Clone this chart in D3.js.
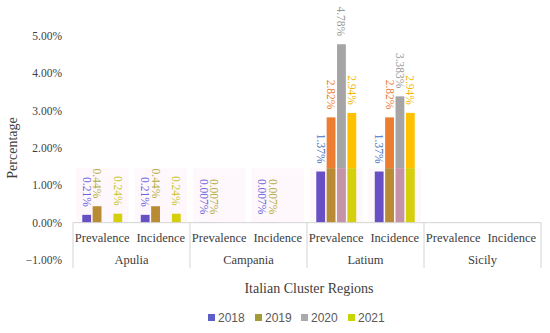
<!DOCTYPE html>
<html>
<head>
<meta charset="utf-8">
<script src="https://cdn.jsdelivr.net/npm/d3@7/dist/d3.min.js"></script>
<style>
  html, body { margin: 0; padding: 0; background: #fff; }
  svg { display: block; }
</style>
</head>
<body>
<svg id="chart" width="550" height="333"></svg>
<script>
const regions = ["Apulia", "Campania", "Latium", "Sicily"];
const measures = ["Prevalence", "Incidence"];
const years = ["2018", "2019", "2020", "2021"];
// values in percent, order: Apulia P, Apulia I, Campania P, Campania I, Latium P, Latium I, Sicily P, Sicily I
const v2018 = [0.21, 0.21, 0.007, 0.007, 1.37, 1.37, null, null];
const v2019 = [0.44, 0.44, 0.007, 0.007, 2.82, 2.82, null, null];
const v2020 = [null, null, null, null, 4.78, 3.383, null, null];
const v2021 = [0.24, 0.24, null, null, 2.94, 2.94, null, null];
const yTicks = [-1, 0, 1, 2, 3, 4, 5];

(function () {
const series = [v2018, v2019, v2020, v2021];
const topColors = ["#4472c4", "#ed7d31", "#a5a5a5", "#ffc000"];
const lowColors = ["#6650c4", "#b98b34", "#c493a6", "#d6cf0c"];
const labelTopColors = ["#4472c4", "#ed7d31", "#9a9a9a", "#f5b800"];
const labelLowColors = ["#6a66dc", "#b3ad3c", "#a8a8a8", "#c9c52a"];
const legendColors = ["#5b5fc7", "#a39b35", "#aaaaaa", "#c6d600"];
const overlayTop = 1.46;

const svg = d3.select("#chart");
const pLeft = 73, pRight = 541, pTop = 36, pBottom = 260;

const y = d3.scaleLinear().domain([-1, 5]).range([pBottom, pTop]);

const cats = [];
regions.forEach(r => measures.forEach(m => cats.push(r + "|" + m)));
const x0 = d3.scaleBand().domain(cats).range([pLeft, pRight]).padding(0);
const xr = d3.scaleBand().domain(regions).range([pLeft, pRight]).padding(0);
const x1 = d3.scaleBand().domain(years).range([8.5, x0.bandwidth() - 8.5]).paddingInner(0.15).paddingOuter(0.075);

const serif = "'Liberation Serif', 'Times New Roman', serif";

// faint background bands (overlay artefact)
svg.append("g").selectAll("rect").data(cats).join("rect")
  .attr("x", d => x0(d) + 3)
  .attr("width", x0.bandwidth() - 6)
  .attr("y", y(overlayTop))
  .attr("height", y(0) - y(overlayTop))
  .attr("fill", (d, i) => i < 6 ? "#fef8fc" : "#ffffff");

// y tick labels
svg.append("g").selectAll("text").data(yTicks).join("text")
  .attr("x", 62).attr("y", d => y(d)).attr("dy", "0.35em")
  .attr("text-anchor", "end")
  .attr("font-family", serif).attr("font-size", 11.5).attr("fill", "#404040")
  .text(d => d3.format(".2f")(d).replace("-", "\u2212") + "%");

// bars
const barG = svg.append("g");
series.forEach((vals, si) => {
  vals.forEach((v, ci) => {
    if (v === null) return;
    const bx = x0(cats[ci]) + x1(years[si]);
    const bw = x1.bandwidth();
    const low = Math.min(v, overlayTop);
    if (v > overlayTop) {
      barG.append("rect").attr("x", bx).attr("width", bw)
        .attr("y", y(v)).attr("height", y(overlayTop) - y(v))
        .attr("fill", topColors[si]);
    }
    barG.append("rect").attr("x", bx).attr("width", bw)
      .attr("y", y(low)).attr("height", Math.max(0, y(0) - y(low)))
      .attr("fill", lowColors[si]);
    const lx = bx + bw / 2;
    const ly = y(v) - 8;
    barG.append("text")
      .attr("transform", `translate(${lx},${ly}) rotate(90)`)
      .attr("text-anchor", "end").attr("dy", "0.35em")
      .attr("font-family", serif).attr("font-size", 11.5)
      .attr("fill", v > 1 ? labelTopColors[si] : labelLowColors[si])
      .text(v + "%");
  });
});

// x axis line at zero
svg.append("line").attr("x1", pLeft).attr("x2", pRight)
  .attr("y1", y(0)).attr("y2", y(0))
  .attr("stroke", "#d4d4d4").attr("stroke-width", 1);

// region separators
const seps = regions.map(r => xr(r)).concat([pRight]);
svg.append("g").selectAll("line").data(seps).join("line")
  .attr("x1", d => d).attr("x2", d => d)
  .attr("y1", y(0)).attr("y2", 268)
  .attr("stroke", "#d4d4d4").attr("stroke-width", 1);

// measure labels
svg.append("g").selectAll("text").data(cats).join("text")
  .attr("x", d => x0(d) + x0.bandwidth() / 2).attr("y", 242)
  .attr("text-anchor", "middle")
  .attr("font-family", serif).attr("font-size", 12.5).attr("fill", "#404040")
  .text(d => d.split("|")[1]);

// region labels
svg.append("g").selectAll("text").data(regions).join("text")
  .attr("x", d => xr(d) + xr.bandwidth() / 2).attr("y", 264)
  .attr("text-anchor", "middle")
  .attr("font-family", serif).attr("font-size", 12.5).attr("fill", "#404040")
  .text(d => d);

// axis titles
svg.append("text").attr("x", (pLeft + pRight) / 2 + 2).attr("y", 293)
  .attr("text-anchor", "middle")
  .attr("font-family", serif).attr("font-size", 14).attr("fill", "#404040")
  .text("Italian Cluster Regions");

svg.append("text")
  .attr("transform", `translate(17,${(pTop + pBottom) / 2}) rotate(-90)`)
  .attr("text-anchor", "middle")
  .attr("font-family", serif).attr("font-size", 14).attr("fill", "#404040")
  .text("Percentage");

// legend
const legX = d3.scaleOrdinal().domain(years).range([208, 255, 301, 348]);
const leg = svg.append("g").selectAll("g").data(years).join("g")
  .attr("transform", d => `translate(${legX(d)},314)`);
leg.append("rect").attr("width", 7).attr("height", 7)
  .attr("fill", (d, i) => legendColors[i]);
leg.append("text").attr("x", 10).attr("y", 8)
  .attr("font-family", "'Liberation Sans', Arial, sans-serif").attr("font-size", 12)
  .attr("fill", "#595959")
  .text(d => d);
})();
</script>
</body>
</html>
